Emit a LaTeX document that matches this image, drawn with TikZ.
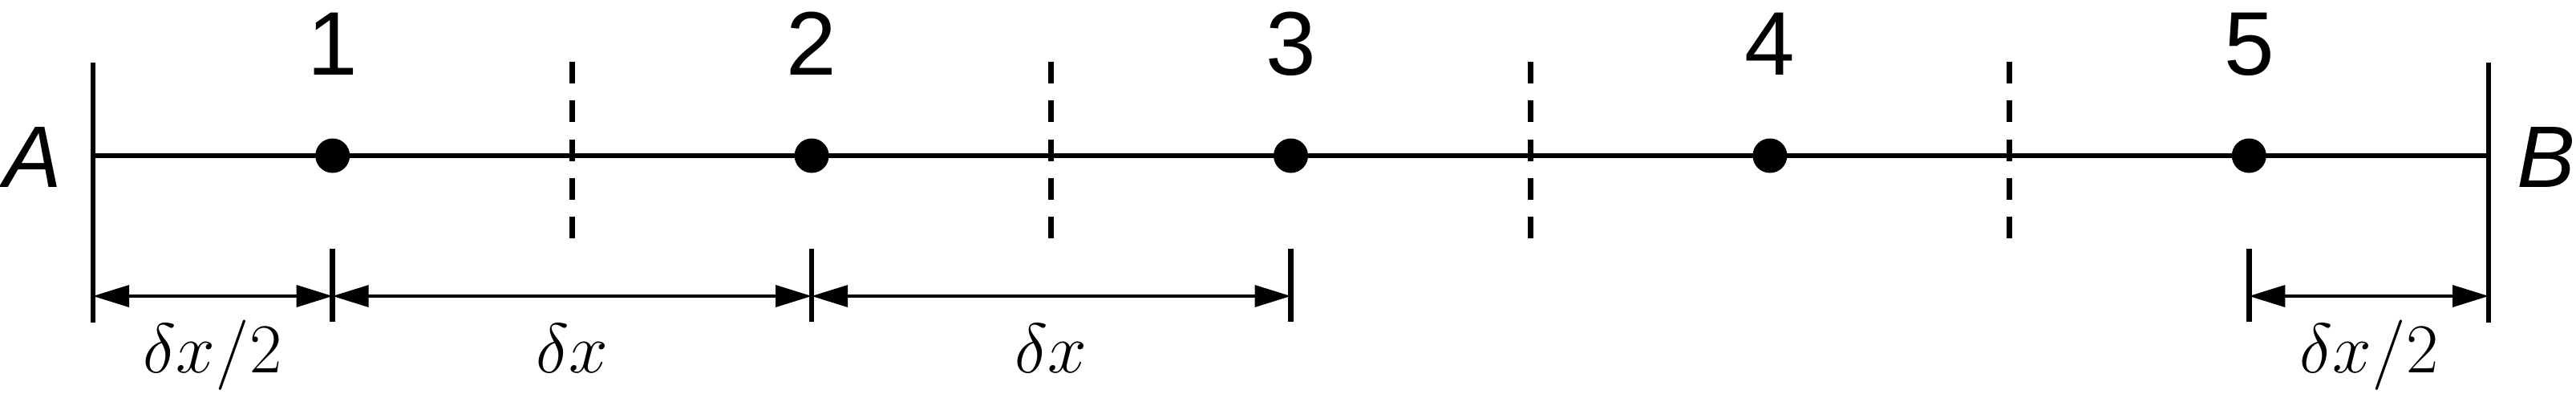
\documentclass[tikz,border=0pt]{standalone}
\usepackage[no-math]{fontspec}
\setmainfont{Liberation Sans}
\usetikzlibrary{arrows.meta}
\begin{document}
\begin{tikzpicture}[x=1cm,y=1cm,
  mainline/.style={line width=0.067cm},
  endline/.style={line width=0.067cm},
  midline/.style={line width=0.067cm, dash pattern=on 0.27cm off 0.2125cm},
  dimtick/.style={line width=0.065cm},
  dimarrow/.style={line width=0.033cm, {Triangle[length=0.45cm,width=0.27cm]}-{Triangle[length=0.45cm,width=0.27cm]}},
  dot/.style={circle, fill=black, inner sep=0pt, minimum size=0.43cm},
  numlabel/.style={font=\fontsize{32}{38}\selectfont, anchor=base, inner sep=0pt},
  endlabel/.style={font=\fontsize{31}{37}\selectfont\itshape, anchor=base, inner sep=0pt},
  dimlabel/.style={font=\fontsize{26}{30}\selectfont, anchor=base, inner sep=0pt}]
\useasboundingbox (0,0) rectangle (32.12,4.90);
% end points
\coordinate (Atop) at (1.16,4.12);
\coordinate (Abot) at (1.16,0.88);
\coordinate (Amid) at (1.16,2.96);
\coordinate (Btop) at (31.03,4.12);
\coordinate (Bbot) at (31.03,0.88);
\coordinate (Bmid) at (31.03,2.96);
\draw[endline] (Atop) -- (Abot);
\draw[endline] (Btop) -- (Bbot);
\draw[mainline] (Amid) -- (Bmid);
% dashed cell faces
\foreach \i/\x in {1/7.134,2/13.108,3/19.082,4/25.056}{
  \coordinate (f\i t) at (\x,4.13);
  \coordinate (f\i b) at (\x,1.92);
  \draw[midline] (f\i t) -- (f\i b);
}
% nodes
\foreach \i/\x in {1/4.147,2/10.121,3/16.095,4/22.069,5/28.043}{
  \node[dot] (d\i) at (\x,2.96) {};
  \node[numlabel] (n\i) at (\x,3.97) {\i};
}
\node[endlabel] (la) at (0.41,2.57) {A};
\node[endlabel] (lb) at (31.75,2.57) {B};
% dimension ticks
\foreach \i/\x in {1/4.147,2/10.121,3/16.095,5/28.043}{
  \coordinate (t\i t) at (\x,1.80);
  \coordinate (t\i b) at (\x,0.89);
  \coordinate (t\i) at (\x,1.21);
  \draw[dimtick] (t\i t) -- (t\i b);
}
\coordinate (tA) at (1.16,1.21);
\coordinate (tB) at (31.03,1.21);
\draw[dimarrow] (tA) -- (t1);
\draw[dimarrow] (t1) -- (t2);
\draw[dimarrow] (t2) -- (t3);
\draw[dimarrow] (t5) -- (tB);
\node[dimlabel] (w1) at (2.65,0.26) {$\delta x/2$};
\node[dimlabel] (w2) at (7.13,0.26) {$\delta x$};
\node[dimlabel] (w3) at (13.10,0.26) {$\delta x$};
\node[dimlabel] (w4) at (29.54,0.26) {$\delta x/2$};
\end{tikzpicture}
\end{document}
